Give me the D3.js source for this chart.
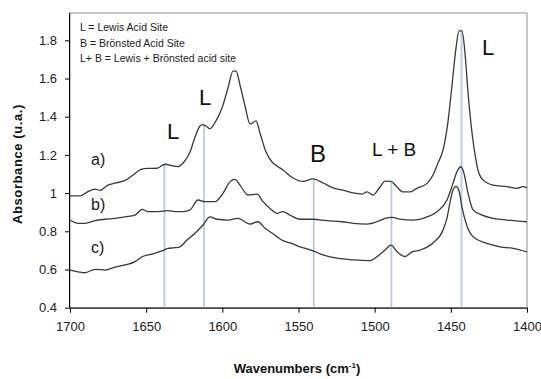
<!DOCTYPE html>
<html><head><meta charset="utf-8">
<script src="https://cdn.jsdelivr.net/npm/d3@7"></script>
<style>body{margin:0;background:#fff}svg{display:block}text{font-family:"Liberation Sans",Arial,sans-serif}</style>
</head><body><svg id="c" width="541" height="379"></svg>
<script>
// ---- data ----
const aWave = [1700,1693.4,1688.2,1683.6,1680.3,1675.1,1669.8,1663.2,1658.6,1653.4,1648.8,1642.9,1637.6,1632.4,1629.1,1625.2,1621.2,1617.9,1614.7,1612.7,1610.7,1608.1,1604.2,1600.2,1596.3,1593.0,1591.0,1588.4,1585.1,1581.8,1577.9,1575.3,1571.3,1567.4,1564.1,1560.2,1553.6,1547.0,1540.5,1533.9,1527.3,1520.8,1514.2,1508.3,1505.0,1501.1,1496.5,1493.2,1489.3,1485.3,1481.4,1476.8,1472.2,1465.6,1461.7,1458.4,1455.1,1451.9,1449.2,1446.6,1444.6,1442.7,1440.7,1438.7,1436.1,1433.5,1432.2,1428.9,1422.3,1413.1,1406.6,1402.6,1400];
const aAbs = [0.985,0.985,1.008,1.021,1.014,1.042,1.053,1.069,1.095,1.124,1.129,1.130,1.151,1.142,1.139,1.163,1.215,1.294,1.351,1.359,1.351,1.338,1.378,1.446,1.550,1.639,1.639,1.566,1.456,1.362,1.378,1.315,1.215,1.163,1.142,1.121,1.079,1.061,1.074,1.053,1.027,1.016,1.001,0.995,1.006,0.990,1.032,1.063,1.061,1.032,1.006,1.006,1.025,1.051,1.095,1.158,1.226,1.372,1.566,1.760,1.849,1.849,1.733,1.524,1.315,1.173,1.121,1.069,1.042,1.034,1.025,1.034,1.027];
const bWave = [1700,1694.7,1690.2,1683.6,1677.0,1670.5,1663.9,1657.3,1652.7,1648.8,1642.2,1635.7,1631.1,1625.8,1621.2,1616.0,1611.4,1604.8,1599.6,1594.9,1591.7,1588.4,1583.2,1577.2,1573.3,1568.7,1564.1,1560.2,1555.6,1549.0,1540.5,1531.3,1521.4,1514.2,1505.0,1498.5,1493.2,1488.6,1483.4,1474.8,1465.6,1459.1,1452.5,1448.6,1446.0,1443.3,1441.4,1438.7,1435.4,1429.5,1422.3,1413.1,1400];
const bAbs = [0.859,0.842,0.842,0.856,0.863,0.868,0.876,0.885,0.915,0.903,0.903,0.908,0.903,0.903,0.912,0.964,0.955,0.955,0.999,1.060,1.072,1.042,0.990,0.995,0.955,0.920,0.894,0.903,0.885,0.863,0.863,0.856,0.850,0.842,0.838,0.850,0.868,0.873,0.864,0.859,0.876,0.903,0.964,1.051,1.112,1.138,1.104,0.999,0.912,0.885,0.868,0.859,0.850];
const cWave = [1700,1694.7,1690.2,1683.6,1677.0,1670.5,1663.9,1657.3,1652.7,1646.2,1639.6,1635.7,1631.1,1627.8,1623.2,1617.9,1612.7,1608.1,1603.5,1596.3,1589.7,1581.8,1576.6,1572.0,1568.7,1564.1,1560.2,1555.6,1549.0,1540.5,1533.9,1524.7,1514.2,1503.1,1498.5,1493.2,1489.3,1485.3,1480.1,1475.5,1470.2,1461.7,1455.1,1452.5,1450.5,1448.6,1446.6,1444.6,1442.7,1439.4,1435.4,1426.3,1417.7,1409.2,1400];
const cAbs = [0.597,0.588,0.583,0.601,0.597,0.612,0.624,0.641,0.667,0.681,0.697,0.711,0.714,0.719,0.754,0.790,0.833,0.876,0.863,0.859,0.868,0.838,0.850,0.816,0.798,0.772,0.751,0.740,0.719,0.698,0.676,0.659,0.650,0.646,0.667,0.702,0.728,0.693,0.668,0.692,0.702,0.739,0.807,0.870,0.953,1.016,1.035,1.011,0.927,0.828,0.772,0.737,0.719,0.711,0.692];
const seriesLabels = ["a)", "b)", "c)"];
const markerWave = [1638, 1612, 1540, 1489, 1443];
const markerTop = [1.15, 1.36, 1.075, 1.06, 1.85];
const siteLabels = ["L", "L", "B", "L + B", "L"];
const legendLines = ["L = Lewis Acid Site", "B = Brönsted Acid Site", "L+ B = Lewis + Brönsted acid site"];
const xTicks = [1700, 1650, 1600, 1550, 1500, 1450, 1400];
const yTicks = [0.4, 0.6, 0.8, 1, 1.2, 1.4, 1.6, 1.8];
const yTitle = "Absorbance (u.a.)";
const xTitle = "Wavenumbers (cm";

// ---- layout ----
const L = 70, R = 527, T = 13, B = 307.7;
const svg = d3.select("#c");
const x = d3.scaleLinear().domain([1700, 1400]).range([L, R]);
const y = d3.scaleLinear().domain([0.4, 0.4 + (B - T) / 191]).range([B, T]);

// plot border
svg.append("rect").attr("x", L).attr("y", T).attr("width", R - L).attr("height", B - T)
  .attr("fill", "none").attr("stroke", "#8f8f8f").attr("stroke-width", 1);

// marker lines
svg.append("g").selectAll("line").data(markerWave).join("line")
  .attr("x1", d => x(d)).attr("x2", d => x(d))
  .attr("y1", y(0.4)).attr("y2", (d, i) => y(markerTop[i]))
  .attr("stroke", "#b7cbe6").attr("stroke-width", 1.8);

// curves
const line = d3.line().x(d => x(d[0])).y(d => y(d[1])).curve(d3.curveMonotoneX);
const series = [[aWave, aAbs], [bWave, bAbs], [cWave, cAbs]];
svg.append("g").selectAll("path").data(series).join("path")
  .attr("d", s => line(s[0].map((w, i) => [w, s[1][i]])))
  .attr("fill", "none").attr("stroke", "#3a3a3a").attr("stroke-width", 1.3);

// axes
const yAxis = svg.append("g").attr("transform", `translate(${L},0)`)
  .call(d3.axisLeft(y).tickValues(yTicks).tickSize(5).tickPadding(8).tickFormat(d => d3.format("")(+d.toFixed(1))));
const xAxis = svg.append("g").attr("transform", `translate(0,${B})`)
  .call(d3.axisBottom(x).tickValues(xTicks).tickSize(5).tickPadding(9).tickFormat(d3.format("d")));
[yAxis, xAxis].forEach(g => {
  g.select(".domain").attr("stroke", "#000").attr("stroke-width", 1);
  g.selectAll(".tick line").attr("stroke", "#000");
  g.selectAll("text").attr("font-size", 13).attr("fill", "#222")
    .attr("font-family", "'Liberation Sans', Arial, sans-serif");
});
yAxis.select(".domain").attr("d", `M-0.5,${B}V${T}`);
xAxis.select(".domain").attr("d", `M${L},0.5H${R}`);

// titles
svg.append("text").attr("transform", "translate(21.5,164) rotate(-90)")
  .attr("text-anchor", "middle").attr("font-weight", "bold").attr("font-size", 13)
  .attr("letter-spacing", 0.6).attr("fill", "#111").text(yTitle);
const xt = svg.append("text").attr("x", 297).attr("y", 373).attr("text-anchor", "middle")
  .attr("font-weight", "bold").attr("font-size", 13).attr("fill", "#111");
xt.append("tspan").text(xTitle);
xt.append("tspan").attr("font-size", 8).attr("dy", -5).text("-1");
xt.append("tspan").attr("dy", 5).text(")");

// legend
svg.append("g").selectAll("text").data(legendLines).join("text")
  .attr("x", 80).attr("y", (d, i) => 31 + i * 15.5)
  .attr("font-size", 10.5).attr("fill", "#222").text(d => d);

// series labels (placed at start-of-curve wavenumber 1683)
const seriesAnchorAbs = [1.03, 0.87, 0.60];
const seriesDy = [-4, -5, -19];
svg.append("g").selectAll("text").data(seriesLabels).join("text")
  .attr("x", 91).attr("y", (d, i) => y(seriesAnchorAbs[i]) + [ -22, -8, -17 ][i])
  .attr("font-size", 16).attr("fill", "#222").text(d => d);

// site labels
const labelX = [167, 199, 310, 372, 482];
const labelY = [139, 105, 162, 156, 55];
const labelSize = [22, 22, 24, 19, 22];
svg.append("g").selectAll("text").data(siteLabels).join("text")
  .attr("x", (d, i) => labelX[i]).attr("y", (d, i) => labelY[i])
  .attr("font-size", (d, i) => labelSize[i]).attr("fill", "#111").text(d => d);
</script></body></html>
